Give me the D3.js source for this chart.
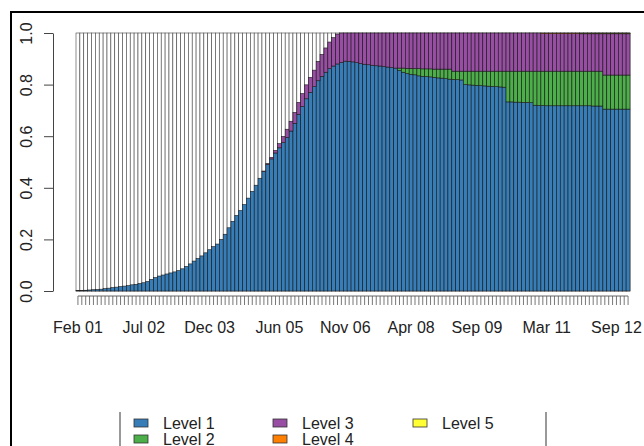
<!DOCTYPE html>
<html><head><meta charset="utf-8">
<script src="https://cdn.jsdelivr.net/npm/d3@7"></script>
<style>html,body{margin:0;padding:0;background:#fff}svg{display:block}text{font-family:"Liberation Sans",Arial,sans-serif;fill:#222}</style>
</head><body>
<svg id="c" width="644" height="446"></svg>
<script>
// Monthly categories Feb 2001 .. Dec 2012
const startMonth = new Date(2001, 1, 1), endMonth = new Date(2013, 0, 1);
const tickLabels = ["Feb 01","Jul 02","Dec 03","Jun 05","Nov 06","Apr 08","Sep 09","Mar 11","Sep 12"];
const levelNames = ["Level 1","Level 2","Level 3","Level 4","Level 5"];
const levelColors = ["#377EB8","#4DAF4A","#984EA3","#FF7F00","#FFFF33"];
const yTicks = [0,0.2,0.4,0.6,0.8,1.0];

const level1 = [
0.002,0.002,0.003,0.004,0.005,0.006,0.007,0.009,0.011,0.013,
0.015,0.017,0.019,0.021,0.024,0.026,0.029,0.032,0.037,0.045,
0.052,0.058,0.062,0.066,0.070,0.074,0.079,0.086,0.095,0.105,
0.116,0.126,0.136,0.148,0.160,0.172,0.182,0.200,0.220,0.245,
0.270,0.293,0.312,0.335,0.360,0.386,0.410,0.437,0.463,0.490,
0.512,0.535,0.555,0.575,0.595,0.620,0.650,0.685,0.715,0.745,
0.770,0.792,0.815,0.832,0.848,0.862,0.872,0.880,0.886,0.891,
0.890,0.888,0.885,0.882,0.879,0.877,0.875,0.873,0.872,0.870,
0.868,0.866,0.864,0.855,0.848,0.843,0.840,0.838,0.834,0.832,
0.831,0.830,0.828,0.826,0.825,0.823,0.821,0.820,0.819,0.818,
0.800,0.799,0.798,0.797,0.796,0.795,0.794,0.793,0.792,0.791,
0.790,0.733,0.733,0.732,0.732,0.731,0.731,0.730,0.720,0.719,
0.719,0.718,0.718,0.718,0.718,0.718,0.718,0.718,0.718,0.718,
0.718,0.718,0.718,0.717,0.717,0.717,0.705,0.705,0.705,0.705,
0.705,0.705,0.705];
const level2 = [
0,0,0,0,0,0,0,0,0,0, 0,0,0,0,0,0,0,0,0,0,
0,0,0,0,0,0,0,0,0,0, 0,0,0,0,0,0,0,0,0,0,
0,0,0,0,0,0,0,0,0,0, 0,0,0,0,0,0,0,0,0,0,
0,0,0,0,0,0,0,0,0,0, 0,0,0,0,0,0,0,0,0,0,
0,0,0,0.009,0.016,0.020,0.023,0.024,0.028,0.029,
0.030,0.031,0.032,0.034,0.035,0.037,0.039,0.032,0.033,0.034,
0.052,0.053,0.054,0.055,0.056,0.057,0.058,0.059,0.060,0.061,
0.062,0.119,0.119,0.120,0.120,0.121,0.121,0.122,0.132,0.133,
0.133,0.134,0.134,0.134,0.134,0.134,0.134,0.134,0.134,0.134,
0.134,0.134,0.134,0.135,0.135,0.135,0.132,0.132,0.132,0.132,
0.132,0.132,0.132];
const level3 = [
0,0,0,0,0,0,0,0,0,0, 0,0,0,0,0,0,0,0,0,0,
0,0,0,0,0,0,0,0,0,0, 0,0,0,0,0,0,0,0,0,0,
0,0,0,0,0,0,0,0,0.002,0.004,
0.006,0.010,0.016,0.024,0.032,0.038,0.042,0.046,0.050,0.054,
0.058,0.064,0.075,0.085,0.094,0.103,0.110,0.116,0.114,0.109,
0.110,0.112,0.115,0.118,0.121,0.123,0.125,0.127,0.128,0.130,
0.132,0.134,0.136,0.136,0.136,0.137,0.137,0.138,0.138,0.139,
0.139,0.139,0.140,0.140,0.140,0.140,0.140,0.148,0.148,0.148,
0.148,0.148,0.148,0.148,0.148,0.148,0.148,0.148,0.148,0.148,
0.148,0.148,0.148,0.148,0.148,0.148,0.148,0.148,0.148,0.148,
0.146,0.146,0.146,0.146,0.146,0.146,0.146,0.146,0.146,0.146,
0.145,0.145,0.145,0.145,0.145,0.145,0.160,0.160,0.160,0.160,
0.160,0.160,0.160];
const level4 = [
0,0,0,0,0,0,0,0,0,0, 0,0,0,0,0,0,0,0,0,0,
0,0,0,0,0,0,0,0,0,0, 0,0,0,0,0,0,0,0,0,0,
0,0,0,0,0,0,0,0,0,0, 0,0,0,0,0,0,0,0,0,0,
0,0,0,0,0,0,0,0,0,0, 0,0,0,0,0,0,0,0,0,0,
0,0,0,0,0,0,0,0,0,0, 0,0,0,0,0,0,0,0,0,0,
0,0,0,0,0,0,0,0,0,0, 0,0,0,0,0,0,0,0,0,0,
0.002,0.002,0.002,0.002,0.002,0.002,0.002,0.002,0.002,0.002,
0.002,0.002,0.002,0.002,0.002,0.002,0.002,0.002,0.002,0.002,
0.002,0.002,0.002];
const level5 = [
0,0,0,0,0,0,0,0,0,0, 0,0,0,0,0,0,0,0,0,0,
0,0,0,0,0,0,0,0,0,0, 0,0,0,0,0,0,0,0,0,0,
0,0,0,0,0,0,0,0,0,0, 0,0,0,0,0,0,0,0,0,0,
0,0,0,0,0,0,0,0,0,0, 0,0,0,0,0,0,0,0,0,0,
0,0,0,0,0,0,0,0,0,0, 0,0,0,0,0,0,0,0,0,0,
0,0,0,0,0,0,0,0,0,0, 0,0,0,0,0,0,0,0,0,0,
0,0,0,0,0,0,0,0,0,0,
0.001,0.001,0.001,0.001,0.001,0.001,0.001,0.001,0.001,0.001,
0.001,0.001,0.001];

const fmt = d3.timeFormat("%b %y");
const months = d3.timeMonth.range(startMonth, endMonth).map(fmt);
const series = [level1, level2, level3, level4, level5];
const table = months.map((m, i) => {
  const row = {month: m};
  levelNames.forEach((k, j) => row[k] = series[j][i]);
  return row;
});

const svg = d3.select("#c");
const x = d3.scaleBand().domain(months).range([76, 630]).padding(0);
const y = d3.scaleLinear().domain([0, 1]).range([291, 33]);

// outer frame
svg.append("path").attr("d", "M11,446V12H644").attr("fill", "none").attr("stroke", "#000").attr("stroke-width", 2);

// background bars (full height, white)
svg.append("g").selectAll("rect").data(months).join("rect")
  .attr("x", d => x(d)).attr("width", x.bandwidth())
  .attr("y", y(1)).attr("height", y(0) - y(1))
  .attr("fill", "#fff").attr("stroke", "#444").attr("stroke-width", 0.6);

const stack = d3.stack().keys(levelNames)(table);
svg.append("g").selectAll("g").data(stack).join("g")
  .attr("fill", (d, j) => levelColors[j])
  .selectAll("rect").data(d => d.filter(s => s[1] - s[0] > 0)).join("rect")
  .attr("x", d => x(d.data.month)).attr("width", x.bandwidth())
  .attr("y", d => y(d[1])).attr("height", d => y(d[0]) - y(d[1]))
  .attr("stroke", "#1a1a1a").attr("stroke-width", 0.6);

// y axis
const ya = svg.append("g").attr("transform", "translate(53,0)")
  .call(d3.axisLeft(y).tickValues(yTicks).tickFormat(d3.format(".1f")).tickSize(9).tickSizeOuter(0));
ya.select(".domain").attr("stroke", "#444");
ya.selectAll(".tick line").attr("stroke", "#444");
ya.selectAll(".tick text").attr("font-size", 16).attr("fill", "#222")
  .attr("transform", "rotate(-90)").attr("x", 0).attr("y", -21).attr("dy", 0)
  .attr("text-anchor", "middle").attr("font-family", "Liberation Sans, Arial, sans-serif");

// x axis
const xa = svg.append("g").attr("transform", "translate(0,296)")
  .call(d3.axisBottom(x).tickSize(9).tickSizeOuter(0).tickFormat(d => tickLabels.includes(d) ? d : ""));
xa.select(".domain").attr("d", `M${x(months[0]) + x.bandwidth()/2},0H${x(months[months.length-1]) + x.bandwidth()/2}`).attr("stroke", "#666");
xa.selectAll(".tick line").attr("stroke", "#555").attr("stroke-width", 0.8);
xa.selectAll(".tick text").attr("font-size", 16).attr("fill", "#222").attr("y", 37).attr("dy", 0)
  .attr("font-family", "Liberation Sans, Arial, sans-serif");

// legend
svg.append("line").attr("x1", 120).attr("x2", 120).attr("y1", 412).attr("y2", 446).attr("stroke", "#999").attr("stroke-width", 2);
svg.append("line").attr("x1", 546).attr("x2", 546).attr("y1", 412).attr("y2", 446).attr("stroke", "#999").attr("stroke-width", 2);
const colX = [134, 273, 413];
const lg = svg.append("g").selectAll("g").data(levelNames).join("g")
  .attr("transform", (d, i) => `translate(${colX[Math.floor(i / 2)]},${i % 2 === 0 ? 419 : 435})`);
lg.append("rect").attr("width", 14).attr("height", 8).attr("fill", (d, i) => levelColors[i])
  .attr("stroke", "#333").attr("stroke-width", 0.8);
lg.append("text").attr("x", 29).attr("y", 10).attr("font-size", 16).text(d => d);
</script>
</body></html>
